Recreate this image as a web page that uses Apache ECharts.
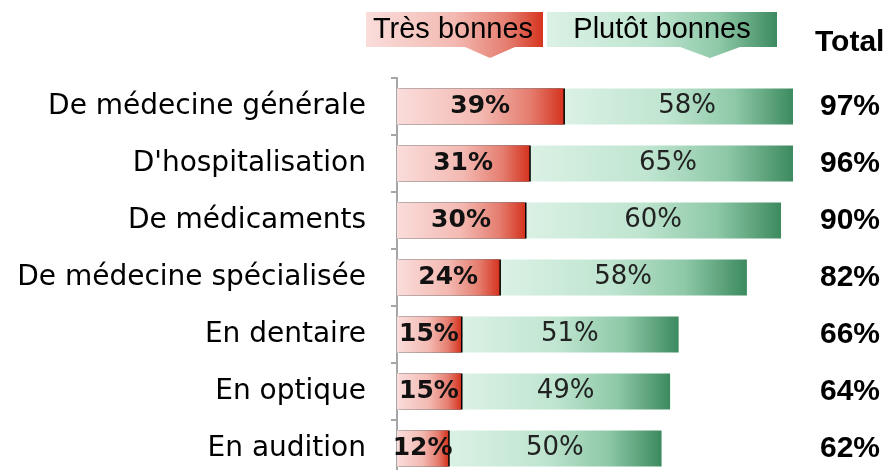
<!DOCTYPE html>
<html>
<head>
<meta charset="utf-8">
<script src="https://cdn.jsdelivr.net/npm/echarts@6/dist/echarts.min.js"></script>
<style>
html, body { margin: 0; padding: 0; background: #fff; }
#chart { width: 890px; height: 470px; }
</style>
</head>
<body>
<div id="chart"></div>
<script>
// 类别
var categories = ['De médecine générale', "D'hospitalisation", 'De médicaments', 'De médecine spécialisée', 'En dentaire', 'En optique', 'En audition'];
// Très bonnes
var tresBonnes = [39, 31, 30, 24, 15, 15, 12];
// Plutôt bonnes
var plutotBonnes = [58, 65, 60, 58, 51, 49, 50];
// Total
var totals = [97, 96, 90, 82, 66, 64, 62];
var legendNames = ['Très bonnes', 'Plutôt bonnes'];

var xMax = 92.8, gridLeft = 397, gridWidth = 396;

var redGrad = function() {
	return { type: 'linear', x: 0, y: 0, x2: 1, y2: 0, colorStops: [
		{ offset: 0, color: '#fadddb' }, { offset: 0.5, color: '#f3b9b2' },
		{ offset: 0.8, color: '#e57d6f' }, { offset: 1, color: '#d5341f' } ] };
},
greenGrad = function() {
	return { type: 'linear', x: 0, y: 0, x2: 1, y2: 0, colorStops: [
		{ offset: 0, color: '#dbf1e5' }, { offset: 0.45, color: '#bfe5d0' },
		{ offset: 0.75, color: '#8dc8a7' }, { offset: 1, color: '#3d8a5f' } ] };
};

// 被裁剪的条形，标签仍按完整长度居中
var greenData = plutotBonnes.map(function(v, i) {
	var end = tresBonnes[i] + v, dx = 0;
	if (end > xMax) dx = (end - xMax) / 2 * gridWidth / xMax;
	return { value: v, label: { offset: [dx, 0] } };
});

var chart = echarts.init(document.getElementById('chart'));
var option = {
	animation: false,
	grid: { left: gridLeft, top: 78, width: gridWidth, height: 399, containLabel: false, outerBoundsMode: 'none' },
	xAxis: { type: 'value', min: 0, max: xMax, show: false },
	yAxis: [ {
		type: 'category',
		inverse: true,
		data: categories,
		axisLine: { lineStyle: { color: '#a6a6a6', width: 2 } },
		axisTick: { show: true, length: 6, lineStyle: { color: '#a6a6a6', width: 2 } },
		axisLabel: { fontFamily: 'DejaVu Sans', fontSize: 28, color: '#000', margin: 31 }
	}, {
		type: 'category',
		inverse: true,
		position: 'right',
		data: totals,
		axisLine: { show: false },
		axisTick: { show: false },
		axisLabel: {
			fontFamily: 'Liberation Sans', fontWeight: 'bold', fontSize: 30, color: '#000', margin: 27,
			formatter: function(v) { return v + '%'; }
		}
	} ],
	series: [ {
		name: legendNames[0],
		type: 'bar',
		stack: 'a',
		barWidth: 36,
		z: 3,
		data: tresBonnes,
		itemStyle: { color: redGrad(), shadowColor: '#000', shadowBlur: 0, shadowOffsetX: 1.5 },
		label: {
			show: true, position: 'inside', formatter: '{c}%',
			fontFamily: 'DejaVu Sans', fontWeight: 'bold', fontSize: 25, color: '#111'
		}
	}, {
		name: legendNames[1],
		type: 'bar',
		stack: 'a',
		barWidth: 36,
		z: 2,
		data: greenData,
		itemStyle: { color: greenGrad() },
		label: {
			show: true, position: 'inside', formatter: '{c}%',
			fontFamily: 'DejaVu Sans', fontSize: 26, color: '#222'
		}
	} ],
	graphic: [ {
		type: 'polygon',
		shape: { points: [[366, 12], [543, 12], [543, 47], [515, 47], [490, 58], [465, 47], [366, 47]] },
		style: { fill: redGrad() }
	}, {
		type: 'text', x: 453, y: 30,
		style: { text: legendNames[0], font: '29px "Liberation Sans"', fill: '#000', align: 'center', verticalAlign: 'middle' }
	}, {
		type: 'polygon',
		shape: { points: [[547, 12], [777, 12], [777, 47], [740, 47], [710, 58], [680, 47], [547, 47]] },
		style: { fill: greenGrad() }
	}, {
		type: 'text', x: 662, y: 30,
		style: { text: legendNames[1], font: '29px "Liberation Sans"', fill: '#000', align: 'center', verticalAlign: 'middle' }
	}, {
		type: 'text', x: 815, y: 43,
		style: { text: 'Total', font: 'bold 30px "Liberation Sans"', fill: '#000', align: 'left', verticalAlign: 'middle' }
	} ]
};
chart.setOption(option);
</script>
</body>
</html>
